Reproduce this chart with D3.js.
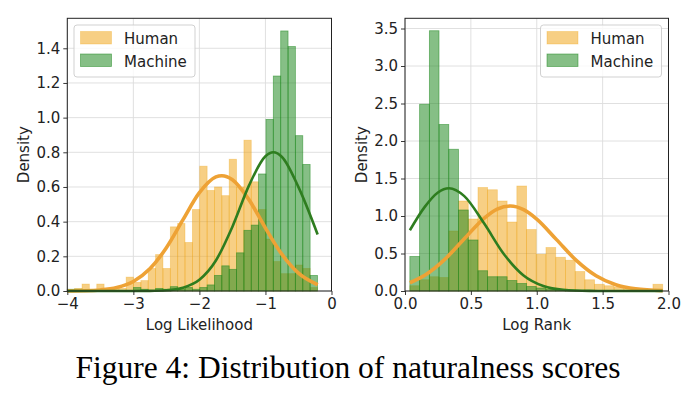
<!DOCTYPE html>
<html>
<head>
<meta charset="utf-8">
<script src="https://cdn.jsdelivr.net/npm/d3@7"></script>
<style>
  body { margin: 0; background: #fff; }
  svg { display: block; }
</style>
</head>
<body>
<script>
// ---- data ----
const seriesNames = ['Human', 'Machine']

// left panel: log likelihood histogram (shared bin edges)
const llBinEdges = [-4.000, -3.889, -3.777, -3.666, -3.554, -3.443, -3.332, -3.220, -3.109,
  -2.997, -2.886, -2.775, -2.663, -2.552, -2.440, -2.329, -2.218, -2.106, -1.995,
  -1.883, -1.772, -1.661, -1.549, -1.438, -1.326, -1.215, -1.104, -0.992, -0.881,
  -0.769, -0.658, -0.547, -0.435, -0.324, -0.212]
const llHuman = [0.005, 0.015, 0.04, 0.01, 0.04, 0.01, 0.01, 0.015, 0.08, 0.05, 0.06,
  0.13, 0.21, 0.13, 0.37, 0.39, 0.28, 0.47, 0.72, 0.58, 0.60, 0.55, 0.76, 0.60,
  0.87, 0.63, 0.47, 0.30, 0.17, 0.10, 0.10, 0.15, 0.13, 0.02]
const llMachine = [0.01, 0.01, 0.005, 0, 0, 0, 0, 0, 0, 0.02, 0.01, 0, 0.015, 0.01,
  0.025, 0.01, 0.02, 0.01, 0.02, 0.035, 0.09, 0.145, 0.125, 0.22, 0.35, 0.38,
  0.675, 0.99, 1.24, 1.5, 1.41, 0.896, 0.73, 0.09]
// fitted normal curves
const llHumanCurveX = [-4.0, -3.75, -3.5, -3.25, -3.0, -2.75, -2.5, -2.25, -2.0, -1.75,
  -1.66, -1.5, -1.25, -1.0, -0.75, -0.5, -0.21]
const llHumanCurveY = [0.0003, 0.0015, 0.006, 0.02, 0.055, 0.128, 0.25, 0.41, 0.567,
  0.658, 0.665, 0.642, 0.527, 0.363, 0.211, 0.103, 0.036]
const llMachineCurveX = [-4.0, -3.0, -2.75, -2.5, -2.25, -2.0, -1.75, -1.5, -1.25, -1.0,
  -0.88, -0.75, -0.5, -0.21]
const llMachineCurveY = [0, 0.0001, 0.0007, 0.004, 0.019, 0.065, 0.176, 0.371, 0.608,
  0.777, 0.80, 0.773, 0.599, 0.326]
const llXTicks = [-4, -3, -2, -1, 0]
const llYTicks = [0, 0.2, 0.4, 0.6, 0.8, 1.0, 1.2, 1.4]

// right panel: log rank histogram
const lrBinEdges = [0.037, 0.111, 0.185, 0.258, 0.332, 0.406, 0.480, 0.554, 0.627,
  0.701, 0.775, 0.849, 0.923, 0.996, 1.070, 1.144, 1.218, 1.292, 1.365, 1.439,
  1.513, 1.587, 1.661, 1.734, 1.808, 1.882, 1.956]
const lrHuman = [0.07, 0.15, 0.19, 0.18, 0.8, 1.2, 0.96, 1.38, 1.35, 1.2, 0.92, 1.4,
  0.82, 0.49, 0.58, 0.45, 0.41, 0.26, 0.15, 0.09, 0.07, 0.05, 0.03, 0.02, 0.02, 0.09]
const lrMachine = [0.46, 2.49, 3.47, 2.22, 1.89, 1.08, 0.68, 0.27, 0.19, 0.19, 0.14,
  0.10, 0.06, 0.04, 0.02, 0.02, 0.01, 0.01, 0.01, 0.005, 0, 0, 0, 0, 0, 0]
const lrHumanCurveX = [0.037, 0.15, 0.3, 0.45, 0.6, 0.7, 0.8, 0.9, 1.0, 1.15, 1.3,
  1.45, 1.6, 1.75, 1.956]
const lrHumanCurveY = [0.11, 0.209, 0.418, 0.697, 0.969, 1.092, 1.133, 1.085, 0.959,
  0.685, 0.408, 0.203, 0.084, 0.029, 0.005]
const lrMachineCurveX = [0.037, 0.15, 0.25, 0.334, 0.45, 0.6, 0.75, 0.9, 1.05, 1.2,
  1.4, 1.6, 1.956]
const lrMachineCurveY = [0.81, 1.122, 1.314, 1.37, 1.265, 0.902, 0.493, 0.207, 0.066,
  0.016, 0.002, 0, 0]
const lrXTicks = [0, 0.5, 1.0, 1.5, 2.0]
const lrYTicks = [0, 0.5, 1.0, 1.5, 2.0, 2.5, 3.0, 3.5]

const caption = 'Figure 4: Distribution of naturalness scores'

// ---- styles ----
const colors = {
  Human: {bar: '#EFA00A', curve: '#EEA235'},
  Machine: {bar: '#228B22', curve: '#2E7D1F'},
}
const FONT = 'DejaVu Sans, sans-serif'
const W = 694
const H = 394

const svg = d3.select('body').append('svg').attr('width', W).attr('height', H)
svg.append('rect').attr('width', W).attr('height', H).attr('fill', '#fff')

const drawPanel = p => {
  const x = d3.scaleLinear().domain(p.xDomain).range([p.left, p.right])
  const y = d3.scaleLinear().domain(p.yDomain).range([p.bottom, p.top])
  const g = svg.append('g')

  // grid
  g.append('g')
    .selectAll('line.gx')
    .data(p.xTicks)
    .join('line')
    .attr('x1', d => x(d)).attr('x2', d => x(d))
    .attr('y1', p.top).attr('y2', p.bottom)
    .attr('stroke', '#dcdcdc').attr('stroke-width', 0.9)
  g.append('g')
    .selectAll('line.gy')
    .data(p.yTicks)
    .join('line')
    .attr('x1', p.left).attr('x2', p.right)
    .attr('y1', d => y(d)).attr('y2', d => y(d))
    .attr('stroke', '#dcdcdc').attr('stroke-width', 0.9)

  // histogram bars
  p.hists.forEach(h => {
    g.append('g')
      .selectAll('rect')
      .data(h.values)
      .join('rect')
      .attr('x', (d, i) => x(p.edges[i]))
      .attr('width', (d, i) => x(p.edges[i + 1]) - x(p.edges[i]))
      .attr('y', d => y(d))
      .attr('height', d => y(0) - y(d))
      .attr('fill', colors[h.name].bar)
      .attr('fill-opacity', h.name === 'Human' ? 0.5 : 0.55)
      .attr('stroke', colors[h.name].bar)
      .attr('stroke-opacity', h.name === 'Human' ? 0.35 : 0.6)
      .attr('stroke-width', 0.8)
  })

  // fitted curves
  const line = d3.line()
    .x(d => x(d[0]))
    .y(d => y(d[1]))
    .curve(d3.curveMonotoneX)
  p.curves.forEach(c => {
    g.append('path')
      .datum(d3.zip(c.xs, c.ys))
      .attr('d', line)
      .attr('fill', 'none')
      .attr('stroke', colors[c.name].curve)
      .attr('stroke-width', c.name === 'Human' ? 3.6 : 2.6)
      .attr('stroke-linecap', 'butt')
  })

  // axes
  const xAxis = d3.axisBottom(x).tickValues(p.xTicks).tickSize(4).tickPadding(3)
    .tickFormat(p.xFormat)
  const yAxis = d3.axisLeft(y).tickValues(p.yTicks).tickSize(4).tickPadding(3)
    .tickFormat(d3.format('.1f'))
  const styleAxis = sel => {
    sel.select('.domain').remove()
    sel.attr('font-family', FONT).attr('font-size', 15)
    sel.selectAll('.tick line').attr('stroke', '#222').attr('stroke-width', 0.9)
    sel.selectAll('.tick text').attr('fill', '#222')
  }
  g.append('g').attr('transform', `translate(0,${p.bottom})`).call(xAxis).call(styleAxis)
  g.append('g').attr('transform', `translate(${p.left},0)`).call(yAxis).call(styleAxis)

  // spines
  g.append('rect')
    .attr('x', p.left).attr('y', p.top)
    .attr('width', p.right - p.left).attr('height', p.bottom - p.top)
    .attr('fill', 'none').attr('stroke', '#222').attr('stroke-width', 1)

  // labels
  g.append('text')
    .attr('x', (p.left + p.right) / 2).attr('y', 330)
    .attr('text-anchor', 'middle')
    .attr('font-family', FONT).attr('font-size', 15).attr('fill', '#222')
    .text(p.xLabel)
  g.append('text')
    .attr('transform', `translate(${p.left - 38},${(p.top + p.bottom) / 2}) rotate(-90)`)
    .attr('text-anchor', 'middle')
    .attr('font-family', FONT).attr('font-size', 15).attr('fill', '#222')
    .text('Density')

  // legend
  const lg = g.append('g').attr('transform', `translate(${p.legendX},25)`)
  lg.append('rect')
    .attr('width', 121).attr('height', 52).attr('rx', 3)
    .attr('fill', '#fff').attr('fill-opacity', 0.8)
    .attr('stroke', '#cccccc').attr('stroke-width', 0.9)
  seriesNames.forEach((name, i) => {
    lg.append('rect')
      .attr('x', 6.5).attr('y', 6.5 + i * 22.5)
      .attr('width', 31).attr('height', 12.5)
      .attr('fill', colors[name].bar)
      .attr('fill-opacity', name === 'Human' ? 0.5 : 0.55)
      .attr('stroke', colors[name].bar)
      .attr('stroke-opacity', name === 'Human' ? 0.35 : 0.6)
      .attr('stroke-width', 0.8)
    lg.append('text')
      .attr('x', 50).attr('y', 19 + i * 22.5)
      .attr('font-family', FONT).attr('font-size', 15).attr('fill', '#222')
      .text(name)
  })
}

drawPanel({
  left: 67.3, right: 331.5, top: 18.3, bottom: 291,
  xDomain: [-4, 0], yDomain: [0, 1.573],
  xTicks: llXTicks, yTicks: llYTicks,
  xFormat: d3.format('d'),
  edges: llBinEdges,
  hists: [{name: 'Human', values: llHuman}, {name: 'Machine', values: llMachine}],
  curves: [
    {name: 'Human', xs: llHumanCurveX, ys: llHumanCurveY},
    {name: 'Machine', xs: llMachineCurveX, ys: llMachineCurveY},
  ],
  xLabel: 'Log Likelihood',
  legendX: 74,
})

drawPanel({
  left: 405, right: 668.5, top: 18.3, bottom: 291,
  xDomain: [0, 2], yDomain: [0, 3.636],
  xTicks: lrXTicks, yTicks: lrYTicks,
  xFormat: d3.format('.1f'),
  edges: lrBinEdges,
  hists: [{name: 'Human', values: lrHuman}, {name: 'Machine', values: lrMachine}],
  curves: [
    {name: 'Human', xs: lrHumanCurveX, ys: lrHumanCurveY},
    {name: 'Machine', xs: lrMachineCurveX, ys: lrMachineCurveY},
  ],
  xLabel: 'Log Rank',
  legendX: 540.5,
})

svg.append('text')
  .attr('x', 348).attr('y', 378)
  .attr('text-anchor', 'middle')
  .attr('font-family', 'Liberation Serif, Times New Roman, serif')
  .attr('font-size', 31.5)
  .attr('fill', '#000')
  .text(caption)
</script>
</body>
</html>
